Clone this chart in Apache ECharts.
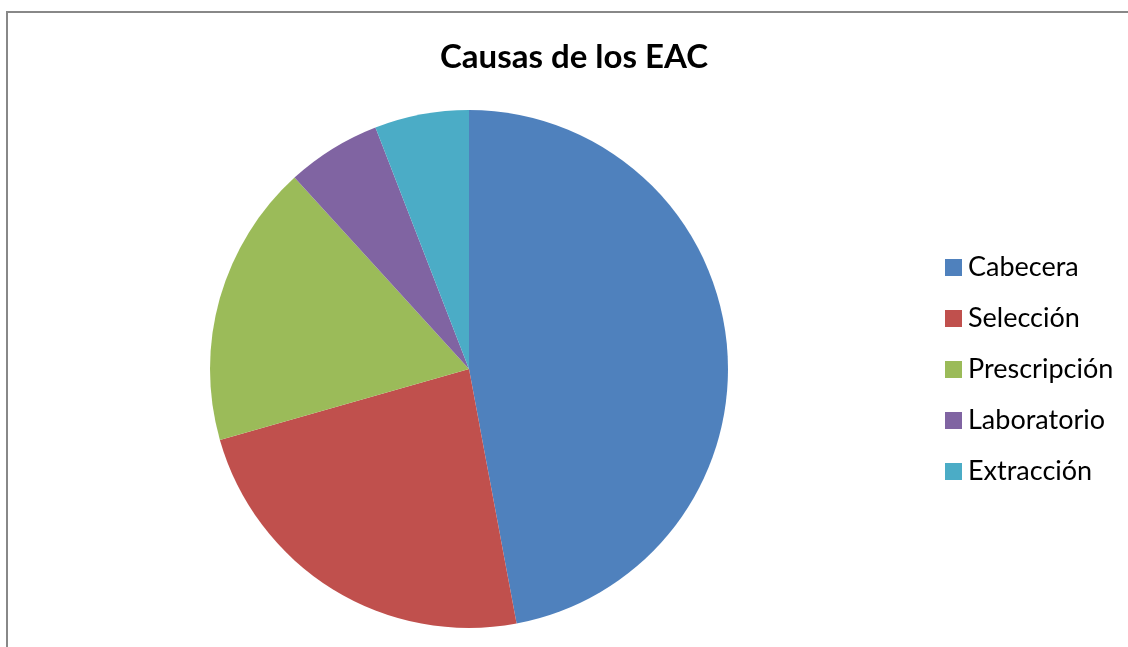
<!DOCTYPE html>
<html>
<head>
<meta charset="utf-8">
<script src="https://cdn.jsdelivr.net/npm/echarts@6/dist/echarts.min.js"></script>
<style>
html,body{margin:0;padding:0;background:#fff;}
#main{width:1128px;height:647px;}
</style>
</head>
<body>
<div id="main"></div>
<script>
const categories = ['Cabecera', 'Selección', 'Prescripción', 'Laboratorio', 'Extracción'];
const values = [16, 8, 6, 2, 2];
const colors = ['#4F81BD', '#C0504D', '#9BBB59', '#8064A2', '#4BACC6'];

const chart = echarts.init(document.getElementById('main'), null, {renderer: 'canvas'});
chart.setOption({
  animation: false,
  backgroundColor: '#ffffff',
  title: {
    text: 'Causas de los EAC',
    left: 569,
    top: 36,
    textAlign: 'center',
    textStyle: {fontFamily: 'Lato', fontWeight: 'bold', fontSize: 33, color: '#000'}
  },
  legend: {
    orient: 'vertical',
    left: 940,
    top: 249,
    icon: 'rect',
    itemWidth: 17,
    itemHeight: 17,
    itemGap: 24,
    data: categories,
    textStyle: {fontFamily: 'Lato', fontSize: 27, color: '#000', padding: [0, 0, 0, 1]}
  },
  graphic: [{
    type: 'rect',
    shape: {x: 7, y: 12, width: 1300, height: 800},
    style: {fill: 'none', stroke: '#888888', lineWidth: 2},
    silent: true
  }],
  series: [{
    type: 'pie',
    center: [469, 369],
    radius: 259,
    startAngle: 90,
    clockwise: true,
    label: {show: false},
    labelLine: {show: false},
    itemStyle: {borderWidth: 0},
    emphasis: {disabled: true},
    data: categories.map((c, i) => ({name: c, value: values[i], itemStyle: {color: colors[i]}}))
  }]
});
</script>
</body>
</html>
